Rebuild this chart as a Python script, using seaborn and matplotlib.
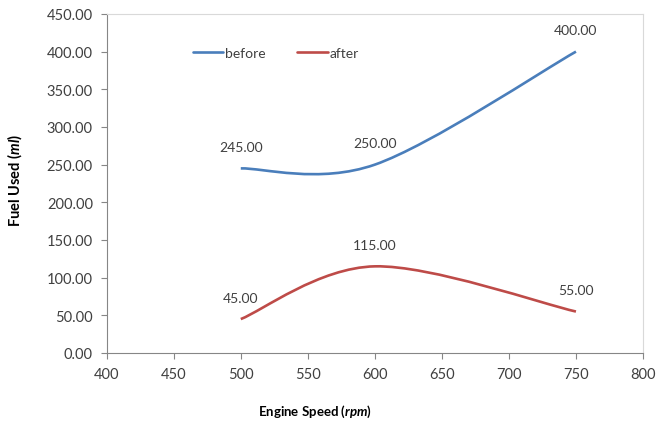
import numpy as np
import pandas as pd
import matplotlib
matplotlib.use("Agg")
import matplotlib.pyplot as plt
from matplotlib.path import Path
from matplotlib.patches import PathPatch
from matplotlib.lines import Line2D
import seaborn as sns

# data
engine_speed = [500, 600, 750]
fuel_before = [245.0, 250.0, 400.0]
fuel_after = [45.0, 115.0, 55.0]
series_names = ["before", "after"]
series_colors = ["#4A7EBB", "#BE4B48"]

sns.set_style("white")
plt.rcParams['font.family'] = ['Lato', 'DejaVu Sans']
plt.rcParams['mathtext.fontset'] = 'custom'
plt.rcParams['mathtext.bfit'] = 'Lato:bold:italic'
plt.rcParams['mathtext.bf'] = 'Lato:bold'
plt.rcParams['mathtext.it'] = 'Lato:italic'
plt.rcParams['mathtext.rm'] = 'Lato'

text_col = "#404040"
axis_col = "#868686"


def smooth_path(xs, ys):
    # Excel style smoothed line: cubic bezier through the points
    pts = np.column_stack([xs, ys]).astype(float)
    n = len(pts)
    verts = [pts[0]]
    codes = [Path.MOVETO]
    for i in range(n - 1):
        p_prev = pts[i - 1] if i > 0 else pts[i]
        p_next = pts[i + 2] if i + 2 < n else pts[i + 1]
        c1 = pts[i] + (pts[i + 1] - p_prev) / 6.0
        c2 = pts[i + 1] - (p_next - pts[i]) / 6.0
        verts += [c1, c2, pts[i + 1]]
        codes += [Path.CURVE4] * 3
    return Path(verts, codes)


df = pd.DataFrame({
    "speed": engine_speed * 2,
    "fuel": fuel_before + fuel_after,
    "series": [series_names[0]] * 3 + [series_names[1]] * 3,
})

fig = plt.figure(figsize=(6.67, 4.27), dpi=100)
ax = fig.add_axes([0.160, 0.171, 0.804, 0.794])

handles = []
for name, color in zip(series_names, series_colors):
    sub = df[df["series"] == name]
    patch = PathPatch(smooth_path(sub["speed"].values, sub["fuel"].values),
                      facecolor="none", edgecolor=color, linewidth=1.9,
                      capstyle="butt", joinstyle="round")
    ax.add_patch(patch)
    handles.append(Line2D([], [], color=color, linewidth=1.9))
    for x, y in zip(sub["speed"], sub["fuel"]):
        ax.annotate(f"{y:.2f}", (x, y), xytext=(0, 11), textcoords="offset points",
                    ha="center", va="bottom", fontsize=10, color=text_col)

ax.set_xlim(400, 800)
ax.set_ylim(0, 450)
ax.set_xticks(np.arange(400, 801, 50))
ax.set_yticks(np.arange(0, 451, 50))
ax.set_yticklabels([f"{v:.2f}" for v in np.arange(0, 451, 50)])

for sp in ax.spines.values():
    sp.set_color("#D9D9D9")
    sp.set_linewidth(0.8)
ax.spines["left"].set_color(axis_col)
ax.spines["bottom"].set_color(axis_col)

ax.tick_params(axis="both", direction="out", length=4, width=0.8, color=axis_col,
               labelsize=10.5, labelcolor=text_col, left=True, bottom=True, pad=6)

ax.set_xlabel(r"Engine Speed ($\mathbfit{rpm}$)", fontsize=9.5, fontweight="bold",
              color="#000000")
ax.set_ylabel(r"Fuel Used ($\mathbfit{ml}$)", fontsize=10.5, fontweight="bold",
              color="#000000")
ax.xaxis.set_label_coords(0.388, -0.148)
ax.yaxis.set_label_coords(-0.155, 0.513)

ax.legend(handles, series_names, loc="center", bbox_to_anchor=(0.315, 0.885),
          ncol=2, frameon=False, handlelength=2.2, handletextpad=0.1,
          columnspacing=2.3, fontsize=10, labelcolor=text_col)

fig.savefig("out.png", dpi=100)
